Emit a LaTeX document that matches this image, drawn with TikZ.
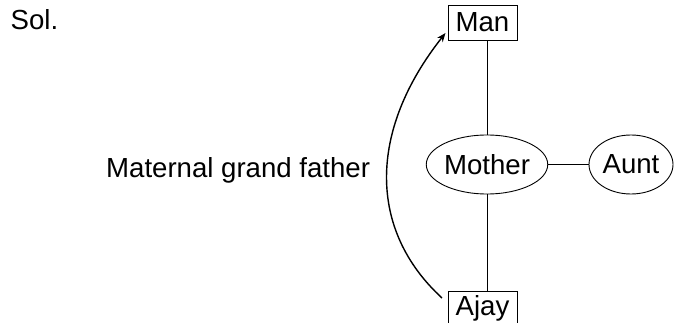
\documentclass[tikz,border=0pt]{standalone}
\usepackage{fontspec}
\setmainfont{Liberation Sans}
\usetikzlibrary{shapes.geometric,arrows.meta}
\begin{document}
\begin{tikzpicture}[x=1pt,y=-1pt,
  every node/.style={font=\fontsize{27.6}{33}\selectfont},
  person/.style={draw, line width=0.9pt, minimum width=69pt, minimum height=35pt, inner sep=0pt},
  relative/.style={draw, ellipse, line width=0.9pt, inner sep=0pt},
  tie/.style={line width=0.9pt},
  lineage/.style={line width=1.4pt, -{Stealth[length=9pt,width=7pt]}}]
\useasboundingbox (0,0) rectangle (674,323);
\node[anchor=base west, inner sep=0pt] (sol) at (10.5,30) {Sol.};
\node[person] (man) at (482.5,22.5) {Man};
\node[person] (ajay) at (482.5,308.5) {Ajay};
\node[relative, minimum width=118pt, minimum height=59pt] (mother) at (487,164.5) {Mother};
\node[relative, minimum width=84pt, minimum height=59pt] (aunt) at (631,164.5) {Aunt};
\node[anchor=base west, inner sep=0pt] (label) at (106,178) {Maternal grand father};
\draw[tie] (man.south -| mother.north) -- (mother.north);
\draw[tie] (mother.south) -- (ajay.north -| mother.south);
\draw[tie] (mother.east) -- (aunt.west);
\coordinate (from) at (442,298);
\coordinate (to) at (445.5,33);
\draw[lineage] (from) .. controls (368,230) and (368,131) .. (to);
\end{tikzpicture}
\end{document}
